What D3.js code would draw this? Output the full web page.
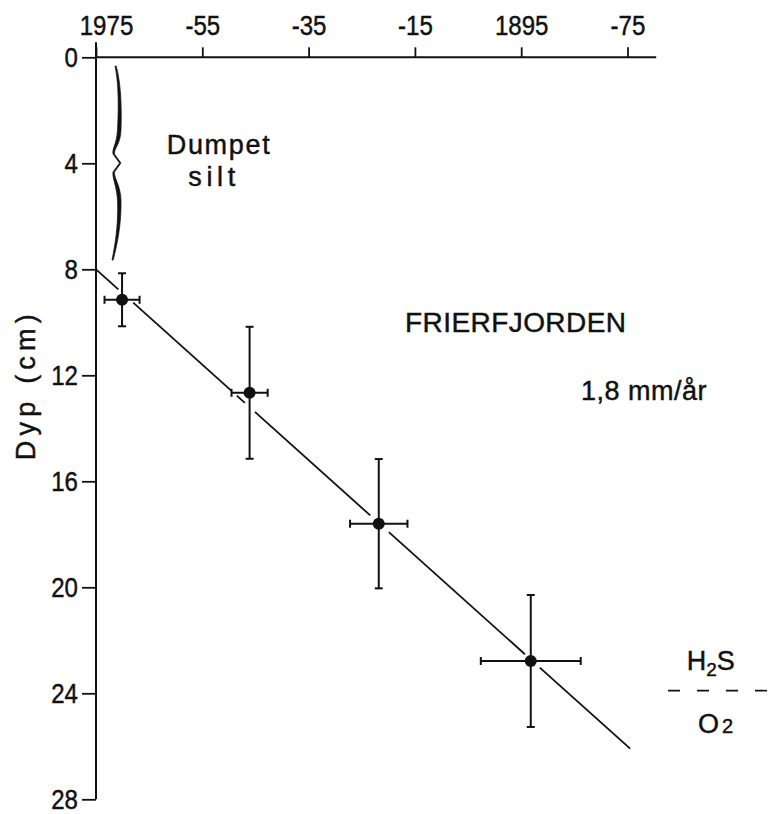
<!DOCTYPE html>
<html>
<head>
<meta charset="utf-8">
<script src="https://cdn.jsdelivr.net/npm/d3@7/dist/d3.min.js"></script>
<style>
  html, body { margin: 0; padding: 0; background: #fff; }
  svg { display: block; }
  text { font-family: "Liberation Sans", Arial, sans-serif; fill: #111; stroke: #111; stroke-width: 0.45px; }
</style>
</head>
<body>
<script>
// Dated sediment layers, Frierfjorden: depth (cm) against year
const years      = [1970.1, 1946.1, 1921.8, 1893.2];
const yearErr    = [3.3, 3.4, 5.4, 9.4];
const depths     = [9.15, 12.66, 17.6, 22.78];
const depthErr   = [1.0, 2.49, 2.44, 2.49];

// Top axis ticks (years) and their printed labels
const yearTicks  = [1975, 1955, 1935, 1915, 1895, 1875];
const yearLabels = ["1975", "-55", "-35", "-15", "1895", "-75"];
// Left axis ticks (depth, cm)
const depthTicks = [0, 4, 8, 12, 16, 20, 24, 28];

// Sedimentation line: 8 cm of dumped silt on top, then 1.8 mm per year
const lineStartDepth = 8;
const rateCmPerYear  = 0.18;
const lineYears      = [1975, 1874.5];
// Breaks left in the line where it passes the markers
const lineGaps = [[1970.8, 1968.0], [1949.5, 1948.5], [1947.0, 1945.1], [1923.4, 1919.9], [1894.3, 1891.5]];

// Dumped silt bracket (depth span) and the H2S / O2 boundary depth
const siltSpan = [0.33, 7.65];
const redoxDepth = 23.9;

const W = 770, H = 814;
const svg = d3.select("body").append("svg").attr("width", W).attr("height", H);

const x = d3.scaleLinear().domain([1975, 1875]).range([96, 627.5]);
const y = d3.scaleLinear().domain([0, 28]).range([57.3, 799.3]);
const ink = "#111";
const labelScale = 0.86;

// ---- top (year) axis
const gx = svg.append("g").attr("transform", `translate(0,${y(0)})`)
  .call(d3.axisTop(x).tickValues(yearTicks).tickFormat((d, i) => yearLabels[i])
    .tickSize(10).tickPadding(12.3));
gx.select(".domain").remove();
gx.selectAll(".tick line").attr("stroke", ink).attr("stroke-width", 1.8);
gx.selectAll(".tick text")
  .attr("font-size", 28).attr("font-family", null).attr("fill", null)
  .attr("transform", `scale(${labelScale},1)`)
  .attr("x", (d, i) => (i === 0 ? 10 : 0) / labelScale);

svg.append("line")
  .attr("x1", x(1975)).attr("x2", x(1869.6))
  .attr("y1", y(0)).attr("y2", y(0))
  .attr("stroke", ink).attr("stroke-width", 2);

// ---- left (depth) axis
const gy = svg.append("g").attr("transform", `translate(${x(1975)},0)`)
  .call(d3.axisLeft(y).tickValues(depthTicks).tickFormat(d3.format("d"))
    .tickSize(14).tickPadding(4));
gy.select(".domain").remove();
gy.selectAll(".tick line").attr("stroke", ink).attr("stroke-width", 1.8);
gy.selectAll(".tick text")
  .attr("font-size", 28).attr("font-family", null).attr("fill", null)
  .attr("transform", `translate(-18,0) scale(${labelScale},1)`)
  .attr("x", 0);

svg.append("line")
  .attr("x1", x(1975)).attr("x2", x(1975))
  .attr("y1", y(0) - 15).attr("y2", y(28))
  .attr("stroke", ink).attr("stroke-width", 2);

svg.append("text")
  .attr("transform", `translate(35,${y(12.45)}) rotate(-90)`)
  .attr("text-anchor", "middle")
  .attr("font-size", 27)
  .attr("textLength", 146).attr("lengthAdjust", "spacing")
  .text("Dyp (cm)");

// ---- bracket marking the dumped silt
(function drawBracket() {
  const x0 = x(1975), yt = y(siltSpan[0]), yb = y(siltSpan[1]);
  const h = yb - yt, ym = (yt + yb) / 2;
  const P = (dx, f) => `${x0 + dx},${yt + f * h}`;
  const d = [
    `M${P(19, 0)}`,
    `C${P(22, .072)} ${P(23, .175)} ${P(21.5, .33)}`,
    `C${P(20.5, .407)} ${P(16, .423)} ${P(17, .454)}`,
    `L${x0 + 23.5},${ym}`,
    `L${P(17, .546)}`,
    `C${P(16, .577)} ${P(20.5, .613)} ${P(21.5, .691)}`,
    `C${P(22.5, .82)} ${P(19, .923)} ${P(16, 1)}`,
    `L${P(17.2, 1)}`,
    `C${P(21, .923)} ${P(25.5, .82)} ${P(25, .691)}`,
    `C${P(24.5, .613)} ${P(17.8, .577)} ${P(18.5, .546)}`,
    `L${x0 + 25},${ym}`,
    `L${P(18.5, .454)}`,
    `C${P(17.8, .423)} ${P(24.5, .407)} ${P(25, .33)}`,
    `C${P(26, .175)} ${P(24, .072)} ${P(20.2, 0)}`,
    "Z"
  ].join(" ");
  svg.append("path").attr("d", d).attr("fill", ink).attr("stroke", ink).attr("stroke-width", 0.7);
})();

svg.append("text").attr("x", 166.7).attr("y", 154).attr("font-size", 27)
  .attr("textLength", 103).attr("lengthAdjust", "spacing").text("Dumpet");
svg.append("text").attr("x", 188.3).attr("y", 186).attr("font-size", 27)
  .attr("textLength", 47).attr("lengthAdjust", "spacing").text("silt");

// ---- sedimentation line, broken at the markers
const depthAt = yr => lineStartDepth + rateCmPerYear * (1975 - yr);
const pieces = [];
let from = lineYears[0];
lineGaps.forEach(([a, b]) => { pieces.push([from, a]); from = b; });
pieces.push([from, lineYears[1]]);
const lineGen = d3.line().x(d => x(d)).y(d => y(depthAt(d)));
svg.append("g").selectAll("path").data(pieces).join("path")
  .attr("d", d => lineGen(d))
  .attr("fill", "none").attr("stroke", ink).attr("stroke-width", 1.8);

// ---- dated layers with error bars
const pts = years.map((yr, i) => ({ yr, ye: yearErr[i], d: depths[i], de: depthErr[i] }));
const gp = svg.append("g").attr("stroke", ink).attr("stroke-width", 2).attr("fill", "none");
const cap = 4;
pts.forEach(p => {
  const cx = x(p.yr), cy = y(p.d);
  const xl = x(p.yr + p.ye), xr = x(p.yr - p.ye);
  const yt = y(p.d - p.de), yb = y(p.d + p.de);
  gp.append("line").attr("x1", cx).attr("x2", cx).attr("y1", yt).attr("y2", yb);
  gp.append("line").attr("x1", cx - cap).attr("x2", cx + cap).attr("y1", yt).attr("y2", yt);
  gp.append("line").attr("x1", cx - cap).attr("x2", cx + cap).attr("y1", yb).attr("y2", yb);
  gp.append("line").attr("x1", xl).attr("x2", xr).attr("y1", cy).attr("y2", cy);
  gp.append("line").attr("x1", xl).attr("x2", xl).attr("y1", cy - cap).attr("y2", cy + cap);
  gp.append("line").attr("x1", xr).attr("x2", xr).attr("y1", cy - cap).attr("y2", cy + cap);
});
svg.append("g").selectAll("circle").data(pts).join("circle")
  .attr("cx", p => x(p.yr)).attr("cy", p => y(p.d)).attr("r", 6).attr("fill", ink);

// ---- annotations
svg.append("text").attr("x", 405).attr("y", 332).attr("font-size", 28)
  .attr("textLength", 221).attr("lengthAdjust", "spacing").text("FRIERFJORDEN");
svg.append("text").attr("x", 581).attr("y", 400).attr("font-size", 27)
  .attr("letter-spacing", 0.5).text("1,8 mm/år");

const h2s = svg.append("text").attr("x", 686.7).attr("y", 670).attr("font-size", 27);
h2s.append("tspan").text("H");
h2s.append("tspan").attr("font-size", 19).attr("dy", 6).text("2");
h2s.append("tspan").attr("dy", -6).text("S");

svg.append("line")
  .attr("x1", 668).attr("x2", W).attr("y1", y(redoxDepth)).attr("y2", y(redoxDepth))
  .attr("stroke", ink).attr("stroke-width", 1.6).attr("stroke-dasharray", "12,17");

const o2 = svg.append("text").attr("x", 698).attr("y", 733).attr("font-size", 27);
o2.append("tspan").text("O");
o2.append("tspan").attr("font-size", 20).attr("dx", 3).text("2");
</script>
</body>
</html>
